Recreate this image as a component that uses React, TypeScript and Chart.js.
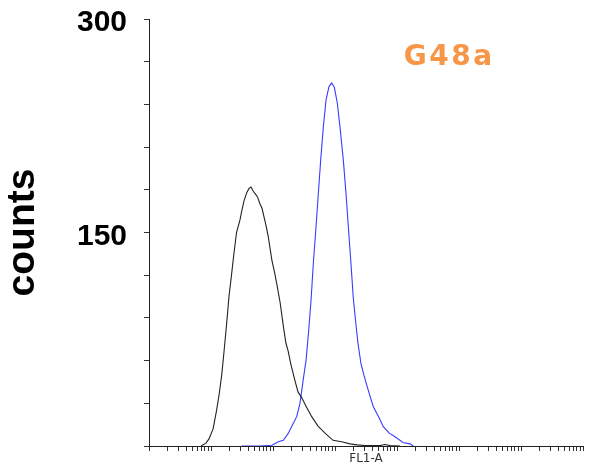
import React, { useEffect, useRef } from "react";
import { Chart, registerables } from "chart.js";

Chart.register(...registerables);

// Isotype control (black) histogram: FL1-A value vs counts
const controlX = [6.9, 8.3, 9.28, 10.8, 12.3, 13.5, 14.9, 16.2, 17.8, 19.5, 21.4, 23.1, 25.8, 29.4, 31.3, 34.0, 37.7, 41.0, 44.2, 48.1, 52.2, 56.2, 61.7, 66.5, 71.6, 77.1, 84.0, 89.5, 96.4, 106, 116, 130, 147, 162, 175, 195, 226, 253, 290, 341, 421, 532, 690, 929, 1282, 1746, 2264, 3048, 5320, 6400, 7710, 11170];
const controlY = [0, 2, 5, 12, 25, 36, 50, 66, 85, 105, 120, 133, 150, 159, 165, 172, 178, 181, 182, 179, 177, 175, 170, 167, 161, 155, 147, 139, 130, 122, 113, 101, 84, 72, 67, 57, 46, 38, 34, 28, 20.6, 14, 9, 4, 3, 1.5, 0.8, 0.3, 0.3, 1, 0.3, 0];

// G48a stained (blue) histogram
const stainedX = [31.3, 61.7, 96.4, 122, 147, 177, 202, 241, 272, 283, 308, 341, 376, 410, 447, 494, 538, 588, 648, 716, 800, 885, 975, 1089, 1205, 1361, 1504, 1641, 1791, 1972, 2145, 2350, 2620, 2920, 3245, 3670, 4150, 5120, 6010, 7500, 9290, 12500, 16200, 18300];
const stainedY = [0, 0, 0.5, 3, 4, 9, 14, 20.6, 30, 35, 47, 60, 81, 102, 128, 154, 177, 201, 224, 243, 252.5, 255, 252, 241, 224, 201, 177.5, 154, 131, 104, 88, 72, 58, 50, 43, 35, 27.6, 20, 13.6, 9, 6.5, 2.5, 1.5, 0];

const yLabels = [150, 300];
const X_MIN = 1;
const X_MAX = 1e7;

const annotationPlugin = {
  id: "g48aLabel",
  afterDraw(chart: any) {
    const { ctx, chartArea } = chart;
    ctx.save();
    ctx.font = 'bold 28px "DejaVu Sans"';
    ctx.fillStyle = "#F79646";
    (ctx as any).letterSpacing = "2.5px";
    ctx.textAlign = "left";
    ctx.textBaseline = "alphabetic";
    const x = chartArea.left + 0.587 * (chartArea.right - chartArea.left);
    const y = chartArea.top + 0.108 * (chartArea.bottom - chartArea.top);
    ctx.fillText("G48a", x, y);
    ctx.restore();
  },
};

export default function App() {
  const ref = useRef<HTMLCanvasElement | null>(null);

  useEffect(() => {
    if (!ref.current) return;
    const toPts = (xs: number[], ys: number[]) => xs.map((x, i) => ({ x, y: ys[i] }));
    const chart = new Chart(ref.current, {
      type: "line",
      data: {
        datasets: [
          {
            label: "control",
            data: toPts(controlX, controlY),
            borderColor: "#222222",
            borderWidth: 1.1,
            pointRadius: 0,
            tension: 0,
            fill: false,
          },
          {
            label: "G48a",
            data: toPts(stainedX, stainedY),
            borderColor: "#3b3bff",
            borderWidth: 1.1,
            pointRadius: 0,
            tension: 0,
            fill: false,
          },
        ],
      },
      options: {
        animation: false,
        responsive: false,
        devicePixelRatio: 1,
        layout: { padding: { top: 19, right: 8, left: 0, bottom: 0 } },
        plugins: { legend: { display: false }, tooltip: { enabled: false } },
        scales: {
          x: {
            type: "logarithmic",
            min: X_MIN,
            max: X_MAX,
            afterBuildTicks: (scale: any) => {
              const t: any[] = [];
              for (let d = X_MIN; d < X_MAX; d *= 10) {
                for (let k = 1; k <= 9; k++) t.push({ value: k * d });
              }
              t.push({ value: X_MAX });
              scale.ticks = t;
            },
            afterFit: (scale: any) => {
              scale.height = 26;
              scale.paddingLeft = 0;
              scale.paddingRight = 0;
            },
            ticks: { display: false },
            grid: {
              drawOnChartArea: false,
              drawTicks: true,
              tickLength: 5,
              tickColor: "#333333",
            },
            border: { display: true, color: "#222222", width: 1 },
            title: {
              display: true,
              text: "FL1-A",
              color: "#333333",
              font: { family: '"DejaVu Sans"', size: 12 },
              padding: { top: 0, bottom: 6 },
            },
          },
          y: {
            type: "linear",
            min: 0,
            max: 300,
            afterFit: (scale: any) => {
              scale.width = 149;
              scale.paddingTop = 0;
              scale.paddingBottom = 0;
            },
            ticks: {
              stepSize: 30,
              padding: 17,
              labelOffset: 4,
              color: "#000000",
              font: { family: '"Liberation Sans"', size: 30, weight: "bold" },
              callback: (v: any) => (yLabels.includes(Number(v)) ? String(v) : ""),
            },
            grid: {
              drawOnChartArea: false,
              drawTicks: true,
              tickLength: 5,
              tickColor: "#333333",
            },
            border: { display: true, color: "#222222", width: 1 },
            title: {
              display: true,
              text: "counts",
              color: "#000000",
              font: { family: '"Liberation Sans"', size: 39, weight: "bold" },
              padding: { top: 0, bottom: 0 },
            },
          },
        },
      },
      plugins: [annotationPlugin],
    });
    return () => chart.destroy();
  }, []);

  return (
    <div style={{ position: "absolute", left: 0, top: 0, width: 591, height: 472 }}>
      <canvas ref={ref} width={591} height={472} />
    </div>
  );
}
